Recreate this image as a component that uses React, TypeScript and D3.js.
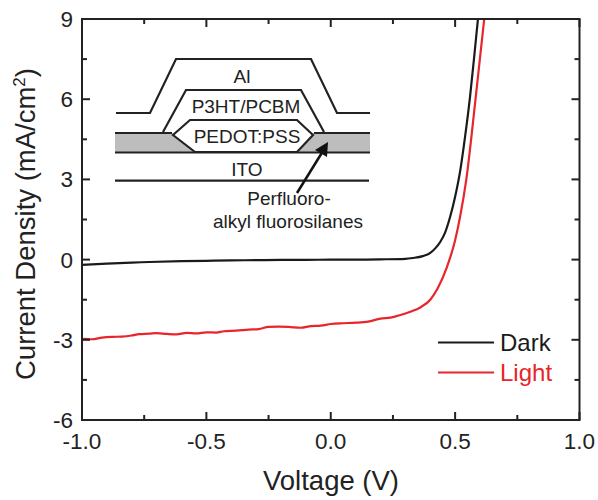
import React from "react";
import * as d3 from "d3";

const darkV = [-1, -0.9, -0.8, -0.73, -0.6, -0.47, -0.4, -0.3, -0.2, -0.1, 0, 0.1, 0.2, 0.3, 0.33, 0.37, 0.4, 0.42, 0.44, 0.46, 0.48, 0.5, 0.52, 0.54, 0.56, 0.58, 0.595];
const darkJ = [-0.2, -0.15, -0.11, -0.09, -0.06, -0.04, -0.03, -0.02, -0.01, -0.01, 0, 0, 0.01, 0.03, 0.06, 0.13, 0.25, 0.42, 0.66, 1.02, 1.6, 2.35, 3.3, 4.6, 6.1, 7.9, 9.3];
const lightV = [-1, -0.99, -0.96, -0.92, -0.88, -0.84, -0.8, -0.77, -0.73, -0.7, -0.66, -0.62, -0.58, -0.54, -0.5, -0.46, -0.43, -0.38, -0.33, -0.29, -0.25, -0.21, -0.17, -0.12, -0.08, -0.04, 0, 0.05, 0.1, 0.15, 0.2, 0.24, 0.28, 0.32, 0.36, 0.4, 0.43, 0.467, 0.5, 0.52, 0.545, 0.582, 0.617];
const lightJ = [-3.0, -2.96, -2.98, -2.92, -2.89, -2.88, -2.84, -2.79, -2.77, -2.75, -2.78, -2.8, -2.74, -2.76, -2.72, -2.73, -2.68, -2.66, -2.62, -2.6, -2.52, -2.51, -2.52, -2.55, -2.49, -2.47, -2.41, -2.38, -2.36, -2.32, -2.21, -2.17, -2.07, -1.95, -1.79, -1.5, -1.07, -0.28, 0.72, 1.6, 3, 6, 9];

const xMajor = [-1, -0.5, 0, 0.5, 1];
const xMinor = [-0.75, -0.25, 0.25, 0.75];
const yMajor = [-6, -3, 0, 3, 6, 9];
const yMinor = [-4.5, -1.5, 1.5, 4.5, 7.5];

const legendNames = ["Dark", "Light"];
const legendColors = ["#1a1a1a", "#e8252b"];

type P = [number, number];
const alLine: P[] = [[116, 113], [150, 113], [176, 59], [311, 59], [337, 113], [370, 113]];
const polymerLine: P[] = [[163, 132], [186, 90], [301, 90], [324, 132]];
const pedotShape: P[] = [[173, 135], [190, 120], [297, 120], [313, 135], [297, 152], [195, 152]];
const greyBand: P[] = [[115, 133], [370, 133], [370, 152], [115, 152]];
const layerLines: [P, P][] = [
  [[115, 133], [172, 133]],
  [[314, 133], [370, 133]],
  [[115, 152.5], [370, 152.5]],
  [[115, 180.7], [369, 180.7]],
];
const arrowShaft: [P, P] = [[297, 193], [323, 151]];
const arrowHead: P[] = [[328, 142], [327, 157], [315, 150]];
const insetLabels: [string, number, number][] = [
  ["Al", 242, 83],
  ["P3HT/PCBM", 246, 113],
  ["PEDOT:PSS", 247, 143],
  ["ITO", 247, 176],
  ["Perfluoro-", 289, 205],
  ["alkyl fluorosilanes", 288, 228],
];

const FONT = "'Liberation Sans', Arial, sans-serif";
const INK = "#222";

export default function App() {
  const x = d3.scaleLinear().domain([-1, 1]).range([82, 579.5]);
  const y = d3.scaleLinear().domain([-6, 9]).range([420, 19]);
  const line = d3.line<number>()
    .x((v) => x(v))
    .curve(d3.curveMonotoneX);
  const dPath = line.y((_, i) => y(darkJ[i]))(darkV) as string;
  const lPath = line.y((_, i) => y(lightJ[i]))(lightV) as string;
  const poly = d3.line();
  return (
    <svg width={598} height={500} style={{ position: "absolute", left: 0, top: 0, background: "#fff" }} fontFamily={FONT}>
      <defs>
        <clipPath id="plot"><rect x={82} y={19} width={497.5} height={401} /></clipPath>
      </defs>
      <path d={poly(greyBand) as string} fill="#bdbdbd" />
      <path d={poly(pedotShape) + "Z"} fill="#fff" stroke={INK} strokeWidth={2.2} />
      {layerLines.map((l, i) => <path key={i} d={poly(l) as string} stroke={INK} strokeWidth={2.2} fill="none" />)}
      <path d={poly(alLine) as string} stroke={INK} strokeWidth={2.2} fill="none" />
      <path d={poly(polymerLine) as string} stroke={INK} strokeWidth={2.2} fill="none" />
      <path d={poly(arrowShaft) as string} stroke="#111" strokeWidth={2.5} fill="none" />
      <path d={poly(arrowHead) + "Z"} fill="#111" />
      {insetLabels.map(([t, a, b]) => (
        <text key={t} x={a} y={b} textAnchor="middle" fontSize={19} fill={INK}>{t}</text>
      ))}

      <g clipPath="url(#plot)" fill="none" strokeWidth={2.2}>
        <path d={dPath} stroke={legendColors[0]} />
        <path d={lPath} stroke={legendColors[1]} />
      </g>

      <rect x={82} y={19} width={497.5} height={401} fill="none" stroke={INK} strokeWidth={2} />
      {xMajor.map((v) => <g key={v}>
        <line x1={x(v)} x2={x(v)} y1={420} y2={412} stroke={INK} strokeWidth={2} />
        <line x1={x(v)} x2={x(v)} y1={19} y2={27} stroke={INK} strokeWidth={2} />
        <text x={x(v)} y={449} textAnchor="middle" fontSize={22.5} fill={INK}>{d3.format(".1f")(v).replace("−", "-")}</text>
      </g>)}
      {xMinor.map((v) => <g key={v}>
        <line x1={x(v)} x2={x(v)} y1={420} y2={415} stroke={INK} strokeWidth={2} />
        <line x1={x(v)} x2={x(v)} y1={19} y2={24} stroke={INK} strokeWidth={2} />
      </g>)}
      {yMajor.map((v) => <g key={v}>
        <line x1={82} x2={90} y1={y(v)} y2={y(v)} stroke={INK} strokeWidth={2} />
        <line x1={579.5} x2={571.5} y1={y(v)} y2={y(v)} stroke={INK} strokeWidth={2} />
        <text x={73} y={y(v) + 8} textAnchor="end" fontSize={22.5} fill={INK}>{v}</text>
      </g>)}
      {yMinor.map((v) => <g key={v}>
        <line x1={82} x2={87} y1={y(v)} y2={y(v)} stroke={INK} strokeWidth={2} />
        <line x1={579.5} x2={574.5} y1={y(v)} y2={y(v)} stroke={INK} strokeWidth={2} />
      </g>)}

      <text x={331} y={490} textAnchor="middle" fontSize={27.5} fill={INK}>Voltage (V)</text>
      <text transform="translate(35,224) rotate(-90)" textAnchor="middle" fontSize={27.5} fill={INK}>
        Current Density (mA/cm<tspan dy={-10} fontSize={17}>2</tspan><tspan dy={10}>)</tspan>
      </text>

      {legendNames.map((n, i) => {
        const ly = 342.5 + i * 30;
        return <g key={n}>
          <line x1={438} x2={494} y1={ly} y2={ly} stroke={legendColors[i]} strokeWidth={2.2} />
          <text x={500} y={ly + 8} fontSize={24} fill={legendColors[i]}>{n}</text>
        </g>;
      })}
    </svg>
  );
}
